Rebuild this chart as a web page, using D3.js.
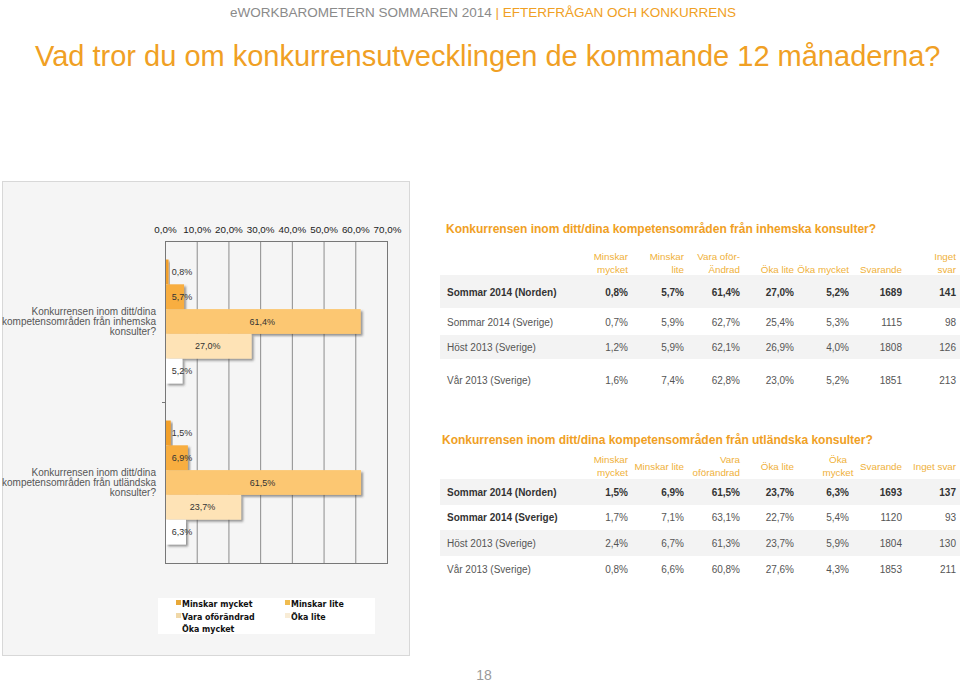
<!DOCTYPE html>
<html><head><meta charset="utf-8">
<script src="https://cdn.jsdelivr.net/npm/d3@7"></script>
<style>
html,body{margin:0;padding:0;background:#fff;}
svg{display:block;font-family:"Liberation Sans",Arial,sans-serif;}
</style></head>
<body>
<svg id="chart" width="960" height="683"></svg>
<script>
// ---------- DATA ----------
const categories = ["inhemska", "utländska"];
const categoryLines = [
  ["Konkurrensen inom ditt/dina", "kompetensområden från inhemska", "konsulter?"],
  ["Konkurrensen inom ditt/dina", "kompetensområden från utländska", "konsulter?"]
];
const seriesNames = ["Minskar mycket", "Minskar lite", "Vara oförändrad", "Öka lite", "Öka mycket"];
const inhemskaValues = [0.8, 5.7, 61.4, 27.0, 5.2];
const utlandskaValues = [1.5, 6.9, 61.5, 23.7, 6.3];
const xTickValues = [0, 10, 20, 30, 40, 50, 60, 70];

const tableRowLabels = ["Sommar 2014 (Norden)", "Sommar 2014 (Sverige)", "Höst 2013 (Sverige)", "Vår 2013 (Sverige)"];
const table1Title = "Konkurrensen inom ditt/dina kompetensområden från inhemska konsulter?";
const table1Headers = [["Minskar", "mycket"], ["Minskar", "lite"], ["Vara oför-", "Ändrad"], ["Öka lite"], ["Öka mycket"], ["Svarande"], ["Inget", "svar"]];
const table1Values = [
  [0.8, 5.7, 61.4, 27.0, 5.2, 1689, 141],
  [0.7, 5.9, 62.7, 25.4, 5.3, 1115, 98],
  [1.2, 5.9, 62.1, 26.9, 4.0, 1808, 126],
  [1.6, 7.4, 62.8, 23.0, 5.2, 1851, 213]
];
const table2Title = "Konkurrensen inom ditt/dina kompetensområden från utländska konsulter?";
const table2Headers = [["Minskar", "mycket"], ["Minskar lite"], ["Vara", "oförändrad"], ["Öka lite"], ["Öka", "mycket"], ["Svarande"], ["Inget svar"]];
const table2Values = [
  [1.5, 6.9, 61.5, 23.7, 6.3, 1693, 137],
  [1.7, 7.1, 63.1, 22.7, 5.4, 1120, 93],
  [2.4, 6.7, 61.3, 23.7, 5.9, 1804, 130],
  [0.8, 6.6, 60.8, 27.6, 4.3, 1853, 211]
];
const headerLeft = "eWORKBAROMETERN SOMMAREN 2014 ";
const headerRight = "| EFTERFRÅGAN OCH KONKURRENS";
const pageTitle = "Vad tror du om konkurrensutvecklingen de kommande 12 månaderna?";
const pageNumber = "18";

// ---------- STYLE ----------
const barColors = ["#f2a02a", "#f8ae40", "#fcc772", "#fee3b6", "#ffffff"];
const legendColors = ["#e8a838", "#f0bc50", "#f0d8a8", "#f8ecd6", "#ffffff"];
const orange = "#f0a024";
const headOrange = "#efb13a";

const svg = d3.select("#chart");
const defs = svg.append("defs");
const f = defs.append("filter").attr("id", "shadow").attr("x", "-20%").attr("y", "-20%").attr("width", "160%").attr("height", "160%");
f.append("feDropShadow").attr("dx", 2).attr("dy", 2).attr("stdDeviation", 1.2).attr("flood-color", "#444").attr("flood-opacity", 0.55);

const fmtPct = v => d3.format(".1f")(v).replace(".", ",") + "%";

// Header
const hdr = svg.append("text").attr("x", 230).attr("y", 17).attr("font-size", 13.5);
hdr.append("tspan").attr("fill", "#8a8a8a").text(headerLeft);
hdr.append("tspan").attr("fill", orange).text(headerRight);

svg.append("text").attr("x", 35).attr("y", 66).attr("font-size", 29).attr("fill", orange).text(pageTitle);

// Panel
svg.append("rect").attr("x", 2.5).attr("y", 181.5).attr("width", 407).attr("height", 474)
  .attr("fill", "#f5f5f5").attr("stroke", "#d8d8d8");

// Chart
const plot = {left: 165, right: 387, top: 241, bottom: 563};
const x = d3.scaleLinear().domain([0, 70]).range([plot.left, plot.right]);
const y = d3.scaleBand().domain(categories).range([plot.top, plot.bottom]).paddingInner(0.23).paddingOuter(0.115);
const yInner = d3.scaleBand().domain(seriesNames).range([0, y.bandwidth()]);

const g = svg.append("g");
g.selectAll("line.grid").data(xTickValues).join("line")
  .attr("x1", d => x(d) + 0.5).attr("x2", d => x(d) + 0.5)
  .attr("y1", plot.top).attr("y2", plot.bottom)
  .attr("stroke", "#8c8c8c").attr("stroke-width", 1);
g.append("rect").attr("x", plot.left + 0.5).attr("y", plot.top + 0.5)
  .attr("width", plot.right - plot.left).attr("height", plot.bottom - plot.top)
  .attr("fill", "none").attr("stroke", "#777");

const xAxis = d3.axisTop(x).tickValues(xTickValues).tickSize(0).tickPadding(8).tickFormat(fmtPct);
const ax = svg.append("g").attr("transform", `translate(0,${plot.top})`).call(xAxis);
ax.select(".domain").remove();
ax.selectAll("text").attr("font-size", 9.8).attr("fill", "#222").attr("font-family", "Liberation Sans, Arial, sans-serif");

svg.append("line").attr("x1", plot.left - 3).attr("x2", plot.left)
  .attr("y1", Math.round(y(categories[1]) - y.step() * y.paddingInner() / 2) + 0.5)
  .attr("y2", Math.round(y(categories[1]) - y.step() * y.paddingInner() / 2) + 0.5)
  .attr("stroke", "#777");

const valuesByCat = {"inhemska": inhemskaValues, "utländska": utlandskaValues};
categories.forEach((cat, ci) => {
  const vals = valuesByCat[cat];
  const cg = svg.append("g").attr("transform", `translate(0,${y(cat)})`);
  cg.selectAll("rect").data(vals).join("rect")
    .attr("x", x(0) + 1)
    .attr("y", (d, i) => yInner(seriesNames[i]))
    .attr("width", d => x(d) - x(0))
    .attr("height", yInner.bandwidth())
    .attr("fill", (d, i) => barColors[i])
    .attr("filter", "url(#shadow)");
  cg.selectAll("text").data(vals).join("text")
    .attr("x", d => Math.max((x(0) + x(d)) / 2, x(0) + 17))
    .attr("y", (d, i) => yInner(seriesNames[i]) + yInner.bandwidth() / 2 + 3.2)
    .attr("text-anchor", "middle").attr("font-size", 9).attr("fill", "#333")
    .text(fmtPct);
  const lines = categoryLines[ci];
  const cy = y(cat) + y.bandwidth() / 2;
  const t = svg.append("text").attr("text-anchor", "end").attr("font-size", 10).attr("fill", "#555");
  lines.forEach((ln, li) => {
    t.append("tspan").attr("x", 156).attr("y", cy + (li - (lines.length - 1) / 2) * 9.8 + 3.5).text(ln);
  });
});

// Legend
const lg = svg.append("g");
lg.append("rect").attr("x", 158).attr("y", 598).attr("width", 217).attr("height", 36).attr("fill", "#fff");
const legPos = [[176, 603], [285, 603], [176, 616], [285, 616], [176, 628]];
seriesNames.forEach((n, i) => {
  const [lx, ly] = legPos[i];
  lg.append("rect").attr("x", lx).attr("y", ly - 3).attr("width", 5).attr("height", 5).attr("fill", legendColors[i]);
  lg.append("text").attr("x", lx + 6).attr("y", ly + 3.5).attr("font-size", 8.8).attr("font-weight", "bold")
    .attr("font-family", "DejaVu Sans Condensed, DejaVu Sans, Verdana, sans-serif").attr("fill", "#111").text(n);
});

// Tables
function drawTable(cfg) {
  const tg = svg.append("g");
  tg.append("text").attr("x", cfg.titleX).attr("y", cfg.titleY).attr("font-size", 12).attr("font-weight", "bold")
    .attr("fill", orange).text(cfg.title);
  cfg.stripes.forEach(s => {
    tg.append("rect").attr("x", 440).attr("y", s[0]).attr("width", 520).attr("height", s[1] - s[0]).attr("fill", "#f3f3f3");
  });
  cfg.headers.forEach((h, ci) => {
    const anchor = cfg.headCenter[ci] ? "middle" : "end";
    const hx = cfg.headCenter[ci] ? cfg.headCenter[ci] : cfg.colX[ci];
    const t = tg.append("text").attr("text-anchor", anchor).attr("font-size", 9.8).attr("fill", headOrange);
    h.forEach((ln, li) => {
      const yy = h.length === 2 ? cfg.headY[li] : cfg.singleY;
      t.append("tspan").attr("x", hx).attr("y", yy).text(ln);
    });
  });
  tableRowLabels.forEach((lab, ri) => {
    const yy = cfg.rowY[ri] + 3.6;
    const boldLabel = cfg.boldLabels[ri];
    const boldVals = cfg.boldVals[ri];
    tg.append("text").attr("x", 447).attr("y", yy).attr("font-size", 10)
      .attr("font-weight", boldLabel ? "bold" : "normal").attr("fill", boldLabel ? "#333" : "#555").text(lab);
    cfg.values[ri].forEach((v, ci) => {
      tg.append("text").attr("x", cfg.colX[ci]).attr("y", yy).attr("text-anchor", "end").attr("font-size", 10)
        .attr("font-weight", boldVals ? "bold" : "normal").attr("fill", boldVals ? "#333" : "#555")
        .text(ci < 5 ? fmtPct(v) : String(v));
    });
  });
}

drawTable({
  title: table1Title, titleX: 446, titleY: 233,
  headers: table1Headers, headY: [260, 273], singleY: 273,
  headCenter: [0, 0, 0, 0, 0, 0, 0],
  colX: [628, 684, 740, 794, 849, 902, 956],
  rowY: [292, 322, 347, 380],
  stripes: [[275, 308], [335, 359]],
  values: table1Values,
  boldLabels: [true, false, false, false],
  boldVals: [true, false, false, false]
});
drawTable({
  title: table2Title, titleX: 442, titleY: 444,
  headers: table2Headers, headY: [463, 475.5], singleY: 469.5,
  headCenter: [0, 0, 0, 0, 838, 0, 0],
  colX: [628, 684, 740, 794, 849, 902, 956],
  rowY: [492, 517, 543, 569],
  stripes: [[479, 505], [530, 556]],
  values: table2Values,
  boldLabels: [true, true, false, false],
  boldVals: [true, false, false, false]
});

svg.append("text").attr("x", 484).attr("y", 680).attr("text-anchor", "middle").attr("font-size", 14)
  .attr("fill", "#9a9a9a").text(pageNumber);
</script>
</body></html>
